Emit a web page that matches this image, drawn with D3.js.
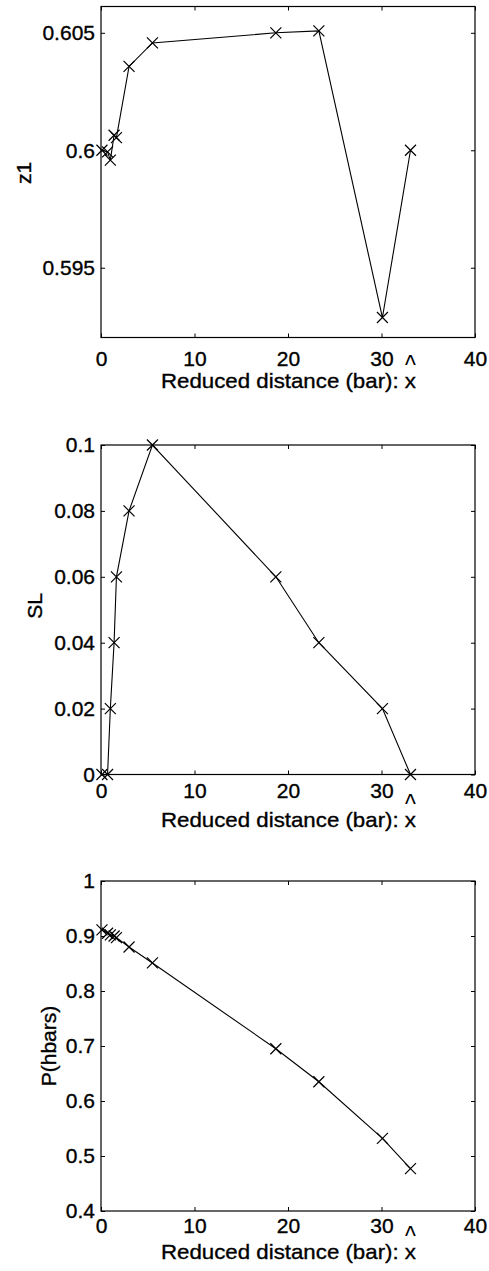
<!DOCTYPE html>
<html><head><meta charset="utf-8">
<script src="https://cdn.jsdelivr.net/npm/d3@7"></script>
<style>body{margin:0;background:#fff}</style>
</head><body><svg id="c" width="489" height="1271"></svg>
<script>
// ---- data ----
const distance = [0.1, 0.7, 1.0, 1.4, 1.65, 3.0, 5.5, 18.7, 23.3, 30.1, 33.1];
const z1Values = [0.6, 0.59993, 0.59958, 0.60064, 0.60054, 0.60357, 0.60457, 0.605, 0.60508, 0.59288, 0.6];
const slValues = [0, 0, 0.02, 0.04, 0.06, 0.08, 0.1, 0.06, 0.04, 0.02, 0];
const pValues = [0.911, 0.905, 0.902, 0.900, 0.897, 0.880, 0.851, 0.695, 0.635, 0.532, 0.477];
const xTicks = [0, 10, 20, 30, 40];
const xTickLabels = ["0", "10", "20", "30", "40"];
const z1Ticks = [0.595, 0.6, 0.605];
const z1TickLabels = ["0.595", "0.6", "0.605"];
const slTicks = [0, 0.02, 0.04, 0.06, 0.08, 0.1];
const slTickLabels = ["0", "0.02", "0.04", "0.06", "0.08", "0.1"];
const pTicks = [0.4, 0.5, 0.6, 0.7, 0.8, 0.9, 1];
const pTickLabels = ["0.4", "0.5", "0.6", "0.7", "0.8", "0.9", "1"];
const xLabelText = "Reduced distance (bar): x";
const yLabels = ["z1", "SL", "P(hbars)"];

const FONT = "'Liberation Sans', Arial, Helvetica, sans-serif";
const FS = 21;
const svg = d3.select("#c");

const panels = [
  {values: z1Values, ticks: z1Ticks, labels: z1TickLabels, ylab: yLabels[0], dom: [0.59203, 0.60612],
   top: 6.5, bottom: 337.5, xPad: 14, xlabBase: 388, ylabX: 31, ylabY: 173},
  {values: slValues, ticks: slTicks, labels: slTickLabels, ylab: yLabels[1], dom: [0, 0.1],
   top: 445, bottom: 774.5, xPad: 9, xlabBase: 827, ylabX: 42, ylabY: 606},
  {values: pValues, ticks: pTicks, labels: pTickLabels, ylab: yLabels[2], dom: [0.4, 1],
   top: 881, bottom: 1211, xPad: 7, xlabBase: 1259, ylabX: 56, ylabY: 1046}
];
const L = 101, R = 475;

const textStyle = sel => sel.attr("font-family", FONT).attr("font-size", FS).attr("fill", "#000")
  .attr("stroke", "#000").attr("stroke-width", 0.35);

panels.forEach(p => {
  const x = d3.scaleLinear().domain([0, 40]).range([L, R]);
  const y = d3.scaleLinear().domain(p.dom).range([p.bottom, p.top]);
  const g = svg.append("g");

  const styleAxis = sel => {
    sel.select(".domain").remove();
    sel.selectAll("line").attr("stroke", "#000").attr("stroke-width", 1);
    sel.selectAll("text").call(textStyle);
  };

  g.append("g").attr("transform", `translate(0,${p.bottom})`)
    .call(d3.axisBottom(x).tickValues(xTicks).tickFormat((d, i) => xTickLabels[i]).tickSize(-4).tickPadding(p.xPad))
    .call(styleAxis);
  g.append("g").attr("transform", `translate(0,${p.top})`)
    .call(d3.axisTop(x).tickValues(xTicks).tickFormat("").tickSize(-4))
    .call(styleAxis);
  g.append("g").attr("transform", `translate(${L},0)`)
    .call(d3.axisLeft(y).tickValues(p.ticks).tickFormat((d, i) => p.labels[i]).tickSize(-4).tickPadding(6))
    .call(styleAxis);
  g.append("g").attr("transform", `translate(${R},0)`)
    .call(d3.axisRight(y).tickValues(p.ticks).tickFormat("").tickSize(-4))
    .call(styleAxis);

  g.append("rect").attr("x", L).attr("y", p.top).attr("width", R - L).attr("height", p.bottom - p.top)
    .attr("fill", "none").attr("stroke", "#000").attr("stroke-width", 1.2);

  const pts = distance.map((d, i) => [x(d), y(p.values[i])]);
  g.append("path").attr("d", d3.line()(pts)).attr("fill", "none").attr("stroke", "#000").attr("stroke-width", 1.1);
  g.selectAll(".m").data(pts).join("path")
    .attr("transform", d => `translate(${d[0]},${d[1]})`)
    .attr("d", "M-5.5,-5.5L5.5,5.5M-5.5,5.5L5.5,-5.5").attr("stroke", "#000").attr("stroke-width", 1.2).attr("fill", "none");

  const xl = g.append("text").attr("x", 161).attr("y", p.xlabBase)
    .call(textStyle)
    .attr("textLength", 255).attr("lengthAdjust", "spacingAndGlyphs")
    .text(xLabelText);
  const n = xLabelText.length;
  const ext = xl.node().getExtentOfChar(n - 1);
  const hx = ext.x + ext.width / 2, hy = p.xlabBase - 14;
  g.append("text").attr("x", hx).attr("y", hy)
    .attr("text-anchor", "middle").attr("font-family", FONT).attr("font-size", FS).attr("fill", "#000")
    .attr("transform", `translate(${hx},${hy}) scale(1.1,1.3) translate(${-hx},${-hy})`)
    .text("^");

  g.append("text").attr("transform", `translate(${p.ylabX},${p.ylabY}) rotate(-90)`)
    .attr("text-anchor", "middle").call(textStyle)
    .text(p.ylab);
});
</script></body></html>
